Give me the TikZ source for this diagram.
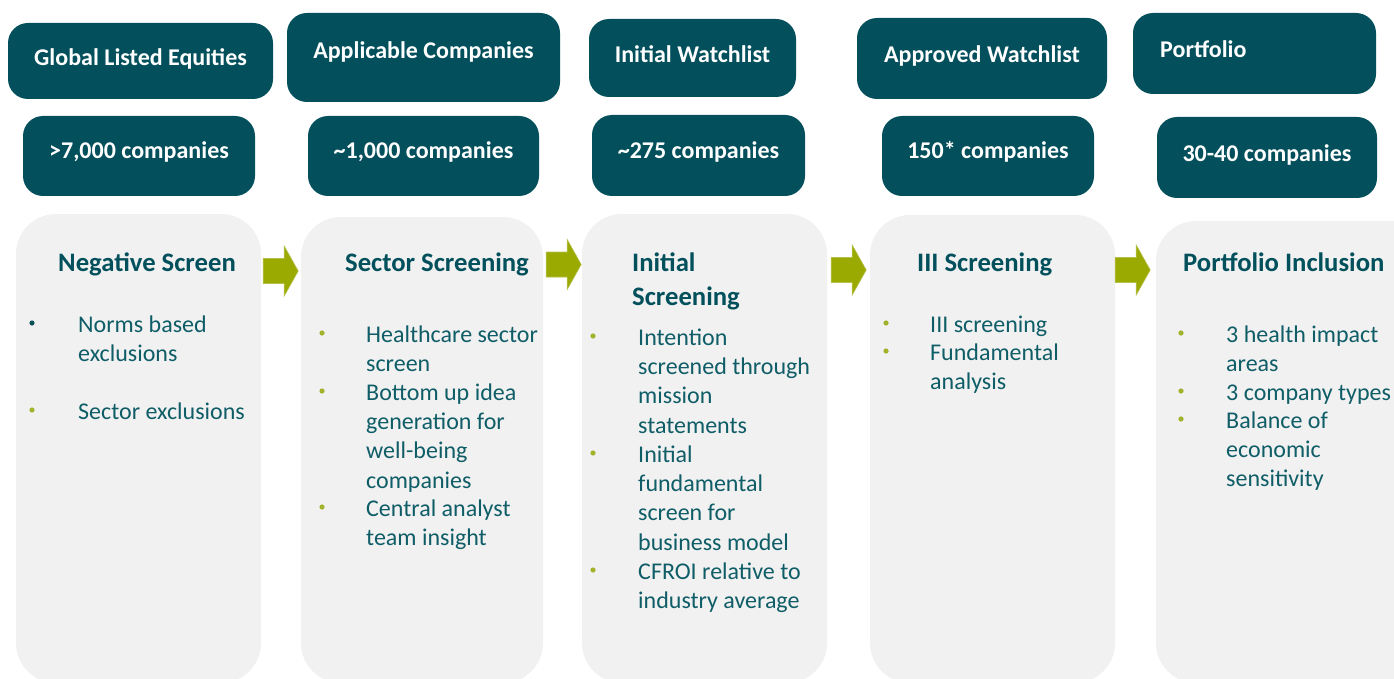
\documentclass[tikz,border=0pt]{standalone}
\usepackage{fontspec}
\setmainfont{Carlito}
\usetikzlibrary{calc}

\definecolor{boxteal}{HTML}{03505C}
\definecolor{panelgrey}{HTML}{F1F1F1}
\definecolor{headteal}{HTML}{02505C}
\definecolor{bodyteal}{HTML}{0F5D67}
\definecolor{bulolive}{HTML}{A2B22B}
\definecolor{bulteal}{HTML}{0B4F5B}
\definecolor{arrowolive}{HTML}{9BAA00}
\definecolor{arrowedge}{HTML}{B4C04A}

\begin{document}
\begin{tikzpicture}[x=1pt,y=-1pt,
  topbox/.style={fill=boxteal, rounded corners=20pt, inner sep=0pt, draw=none},
  panel/.style={fill=panelgrey, rounded corners=40pt, inner sep=0pt, draw=none},
  titletext/.style={anchor=base, inner sep=0pt, text=white, font=\fontsize{24}{29}\selectfont\bfseries},
  counttext/.style={anchor=base, inner sep=0pt, text=white, font=\fontsize{24}{29}\selectfont\bfseries},
  headtext/.style={anchor=north west, inner sep=0pt, align=left, text=headteal, font=\fontsize{26.67}{34}\selectfont\bfseries},
  itemtext/.style={anchor=north west, inner sep=0pt, align=left, text=bodyteal, font=\fontsize{24}{29.3}\selectfont},
  blockarrow/.style={fill=arrowolive, draw=arrowedge, line width=0.6pt},
  bulletdot/.style={fill=bulolive}
]
\useasboundingbox (0,0) rectangle (1394,679);
\clip (0,0) rectangle (1394,679);

% stage titles
\node[topbox, minimum width=265, minimum height=76] (t1) at (140.5,61) {};
\node[topbox, minimum width=273, minimum height=89] (t2) at (423.5,57.5) {};
\node[topbox, minimum width=207, minimum height=78] (t3) at (692.5,58) {};
\node[topbox, minimum width=250, minimum height=81] (t4) at (982,58.5) {};
\node[topbox, minimum width=243, minimum height=81] (t5) at (1254.5,53.5) {};

\node[titletext] (tt1) at (t1.center |- 0,66) {Global Listed Equities};
\node[titletext] (tt2) at (t2.center |- 0,58.3) {Applicable Companies};
\node[titletext] (tt3) at (t3.center |- 0,62.7) {Initial Watchlist};
\node[titletext] (tt4) at (t4.center |- 0,62.7) {Approved Watchlist};
\node[titletext, anchor=base west] (tt5) at (1160,57.3) {Portfolio};

% company counts
\node[topbox, minimum width=232, minimum height=80] (c1) at (139,156) {};
\node[topbox, minimum width=231, minimum height=80] (c2) at (423.5,156) {};
\node[topbox, minimum width=213, minimum height=81] (c3) at (698.5,155.5) {};
\node[topbox, minimum width=212, minimum height=80] (c4) at (988,156) {};
\node[topbox, minimum width=220, minimum height=81] (c5) at (1267,157.5) {};

\node[counttext] (ct1) at (c1.center |- 0,158.3) {>7,000 companies};
\node[counttext] (ct2) at (c2.center |- 0,158.3) {\textasciitilde1,000 companies};
\node[counttext] (ct3) at (c3.center |- 0,158.3) {\textasciitilde275 companies};
\node[counttext] (ct4) at (c4.center |- 0,158.3) {150* companies};
\node[counttext] (ct5) at (c5.center |- 0,161.7) {30-40 companies};

% screening panels
\node[panel, minimum width=245, minimum height=469] (g1) at (138.5,448.5) {};
\node[panel, minimum width=242, minimum height=466] (g2) at (422,450) {};
\node[panel, minimum width=245, minimum height=469] (g3) at (704.5,448.5) {};
\node[panel, minimum width=245, minimum height=468] (g4) at (992.5,449) {};
\node[panel, minimum width=274, minimum height=462] (g5) at (1293,452) {};

% flow arrows between panels
\coordinate (a1) at ($(g1.east |- 0,271)+(2,0)$);
\coordinate (a2) at ($(g2.east |- 0,264.5)+(3,0)$);
\coordinate (a3) at ($(g3.east |- 0,270)+(4,0)$);
\coordinate (a4) at ($(g4.east |- 0,270)+(0,0)$);
\foreach \a in {a1,a2,a3,a4}{
  \path[blockarrow, shift={(\a)}] (0,-12.5) -- (21,-12.5) -- (21,-25) -- (35,0)
    -- (21,25) -- (21,12.5) -- (0,12.5) -- cycle;
}

% panel headings
\node[headtext] (h1) at (58,247.2) {\strut Negative Screen};
\node[headtext] (h2) at (345,247.2) {\strut Sector Screening};
\node[headtext] (h3) at (632,247.2) {\strut Initial\\Screening};
\node[headtext] (h4) at (917,247.2) {\strut III Screening};
\node[headtext] (h5) at (1183,247.2) {\strut Portfolio Inclusion};

% Negative Screen
\fill[bulteal] (32,323) circle (2.6);
\node[itemtext] (i11) at (78,311.5) {\strut Norms based\\exclusions};
\fill[bulletdot] (32,410) circle (2.6);
\node[itemtext] (i12) at (78,398.5) {\strut Sector exclusions};

% Sector Screening
\fill[bulletdot] (322,333) circle (2.6);
\node[itemtext] (i21) at (366,321.5) {\strut Healthcare sector\\screen};
\fill[bulletdot] (322,391) circle (2.6);
\node[itemtext] (i22) at (366,379.5) {\strut Bottom up idea\\generation for\\well-being\\companies};
\fill[bulletdot] (322,507) circle (2.6);
\node[itemtext] (i23) at (366,495.5) {\strut Central analyst\\team insight};

% Initial Screening
\fill[bulletdot] (593,336) circle (2.6);
\node[itemtext] (i31) at (638,324.5) {\strut Intention\\screened through\\mission\\statements};
\fill[bulletdot] (593,453) circle (2.6);
\node[itemtext] (i32) at (638,441.5) {\strut Initial\\fundamental\\screen for\\business model};
\fill[bulletdot] (593,570) circle (2.6);
\node[itemtext] (i33) at (638,558.5) {\strut CFROI relative to\\industry average};

% III Screening
\fill[bulletdot] (886,323) circle (2.6);
\node[itemtext] (i41) at (930,311.5) {\strut III screening};
\fill[bulletdot] (886,351) circle (2.6);
\node[itemtext] (i42) at (930,339.5) {\strut Fundamental\\analysis};

% Portfolio Inclusion
\fill[bulletdot] (1181,333) circle (2.6);
\node[itemtext] (i51) at (1226,321.5) {\strut 3 health impact\\areas};
\fill[bulletdot] (1181,391) circle (2.6);
\node[itemtext] (i52) at (1226,379.5) {\strut 3 company types};
\fill[bulletdot] (1181,419) circle (2.6);
\node[itemtext] (i53) at (1226,407.5) {\strut Balance of\\economic\\sensitivity};
\end{tikzpicture}
\end{document}
